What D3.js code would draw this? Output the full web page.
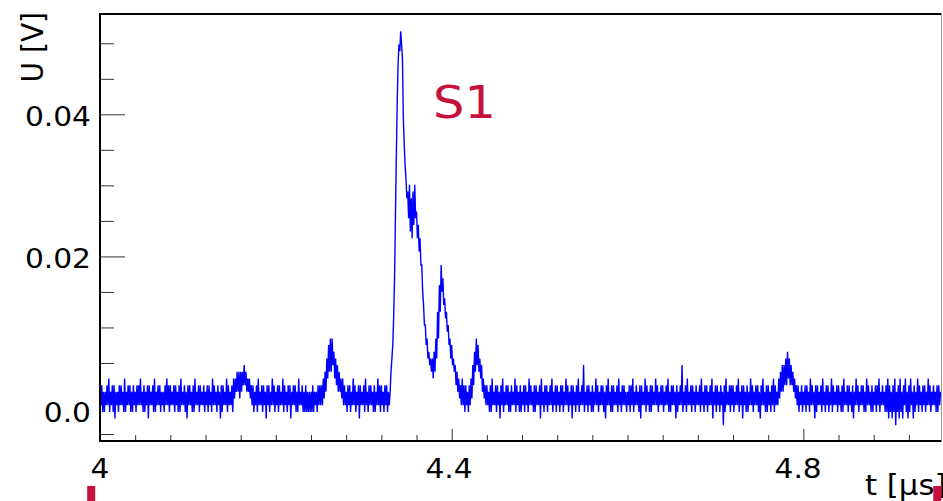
<!DOCTYPE html>
<html>
<head>
<meta charset="utf-8">
<script src="https://cdn.jsdelivr.net/npm/d3@7"></script>
<style>
  html, body { margin: 0; padding: 0; background: #fff; }
  svg { display: block; }
  text { font-family: "DejaVu Sans", sans-serif; }
</style>
</head>
<body>
<svg id="chart" width="943" height="501"></svg>
<script>
// Digitiser trace: ADC counts, one sample per ns, starting at t = 4.000 µs
const lsbVolts = 0.00094;
const startTime = 4.0;
const sampleStep = 0.001;
const adcCounts = [
  2,-1, 2,-2, 1,-2, 1,-1, 2,-1, 3,-2, 1,-1, 2,-2, 2,-3, 1,-1, 1,-2, 2,-1, 2,-1, 1,-2, 3,-2, 1,-1, 2,-1, 2,-2, 1,-2, 2,-1,
  1,-2, 2,-1, 2,-1, 3,-1, 1,-2, 2,-2, 1,-1, 2,-3, 2,-1, 1,-1, 2,-2, 3,-2, 1,-1, 2,-1, 2,-2, 1,-1, 1,-2, 2,-1, 3,-1, 2,-2,
  2,-1, 1,-1, 2,-2, 2,-1, 1,-2, 2,-2, 3,-1, 1,-1, 2,-2, 1,-3, 2,-1, 2,-1, 1,-2, 2,-2, 3,-1, 1,-1, 2,-2, 2,-1, 1,-1, 2,-2,
  1,-1, 2,-2, 2,-1, 1,-2, 3,-1, 2,-1, 1,-2, 2,-1, 1,-3, 2,-2, 2,-1, 1,-1, 3,-2, 2,-1, 1,-1, 2,-2, 3,0, 3,1, 4,1, 4,0,
  4,1, 4,2, 5,2, 4,1, 3,1, 3,0, 2,-1, 2,-2, 1,-1, 2,-2, 3,-1, 1,-1, 2,-2, 2,-1, 1,-3, 2,-1, 2,-2, 1,-1, 3,-1, 2,-2,
  1,-1, 2,-2, 2,-1, 1,-1, 3,-2, 2,-1, 1,-2, 2,-1, 2,-3, 1,-1, 2,-1, 2,-2, 1,-2, 3,-1, 1,-1, 2,-2, 1,-2, 2,-2, 1,-2, 1,-2,
  1,-2, 2,-2, 1,-1, 1,-2, 2,-1, 2,-1, 2,-1, 3,0, 4,1, 6,3, 8,4, 9,4, 9,5, 7,3, 6,2, 5,1, 4,1, 3,0, 3,-1, 2,-1,
  1,-2, 2,-1, 2,-2, 1,-1, 3,-1, 2,-2, 1,-1, 2,-3, 2,-1, 1,-1, 2,-2, 3,-1, 1,-2, 2,-1, 2,-1, 1,-2, 2,-2, 1,-1, 3,-1, 2,-2,
  2,-1, 1,-2, 2,-1, 2,-2, 1,-1,
  1,4,6,8,12,18,27,36,44,50, 53,52,55,53,51,42,38,35,33,30,
  31,27, 32,25, 30,24, 31,26, 32,27,
  28,24, 26,22, 24,20, 20,16, 14,11, 11,8, 9,6, 7,5, 6,4, 6,3, 7,4, 9,6, 13,9, 17,13, 20,16, 18,14, 15,12, 13,10, 11,8, 9,6,
  8,5, 6,4, 5,2, 4,1, 3,0, 2,-1, 3,-1, 2,-2, 2,-1, 1,-2, 2,-1, 3,0, 5,2, 7,4, 9,5, 8,4, 6,3, 5,1, 3,0, 2,-1,
  2,-1, 1,-2, 2,-2, 3,-1, 1,-1, 2,-2, 2,-1, 1,-3, 2,-1, 3,-2, 1,-1, 2,-1, 2,-2, 1,-2, 2,-1, 1,-1, 3,-2, 2,-1, 1,-2, 2,-2,
  1,-1, 2,-2, 2,-1, 1,-2, 3,-1, 2,-1, 1,-2, 2,-2, 2,-1, 1,-1, 2,-3, 3,-1, 1,-2, 2,-1, 2,-2, 1,-1, 2,-1, 3,-2, 1,-1, 2,-2,
  2,-1, 1,-2, 2,-1, 2,-2, 1,-1, 3,-1, 2,-2, 1,-1, 2,-3, 2,-1, 1,-2, 2,-1, 3,-2, 1,-1, 2,-1, 5,-2, 1,-1, 2,-2, 2,-1, 1,-2,
  2,-2, 1,-1, 3,-1, 2,-2, 1,-1, 2,-1, 2,-2, 1,-3, 2,-1, 3,-1, 1,-2, 2,-2, 2,-1, 1,-1, 2,-2, 3,-1, 1,-2, 2,-1, 2,-1, 1,-2,
  1,-1, 2,-2, 2,-1, 3,-2, 1,-1, 2,-1, 1,-2, 2,-3, 2,-1, 1,-1, 3,-2, 2,-1, 1,-2, 2,-2, 2,-1, 1,-1, 3,-1, 2,-2, 1,-1, 2,-1,
  2,-2, 1,-1, 2,-1, 3,-2, 1,-2, 2,-1, 2,-1, 1,-3, 2,-2, 1,-1, 2,-1, 5,-2, 1,-1, 2,-2, 3,-1, 1,-1, 2,-2, 2,-1, 1,-2, 2,-1,
  1,-1, 2,-2, 3,-1, 1,-2, 2,-1, 2,-2, 1,-1, 2,-1, 3,-3, 1,-1, 2,-2, 2,-1, 1,-2, 2,-1, 1,-4, 2,-2, 3,-1, 1,-1, 2,-2, 2,-1,
  2,-2, 1,-1, 2,-1, 3,-2, 1,-1, 2,-3, 2,-1, 1,-2, 2,-2, 1,-1, 3,-1, 2,-2, 1,-1, 2,-1, 2,-2, 1,-3, 2,-1, 3,-1, 1,-2, 2,-2,
  2,-1, 1,-2, 2,-1, 3,-2, 2,-1, 1,-1, 3,0, 4,1, 5,1, 5,2, 6,2, 7,3, 6,2, 5,2, 4,1, 3,0, 2,-1, 2,-2, 1,-1, 2,-2,
  1,-1, 2,-2, 2,-1, 1,-2, 3,-1, 2,-1, 1,-3, 2,-2, 2,-1, 1,-1, 2,-2, 3,-1, 1,-2, 2,-1, 2,-2, 1,-1, 3,-2, 2,-1, 1,-1, 2,-2,
  2,-1, 1,-2, 2,-2, 3,-1, 1,-1, 2,-2, 2,-1, 1,-2, 2,-3, 1,-1, 3,-1, 2,-2, 1,-1, 2,-1, 2,-2, 1,-2, 3,-1, 2,-1, 1,-2, 2,-2,
  1,-1, 2,-2, 2,-1, 3,-2, 1,-1, 2,-1, 1,-2, 2,-2, 3,-3, 2,-2, 1,-3, 2,-2, 3,-4, 1,-2, 2,-3, 3,-2, 1,-3, 2,-1, 3,-2, 1,-3,
  2,-2, 3,-1, 1,-3, 2,-2, 1,-1, 3,-2, 2,-1, 1,-2, 2,-1, 2,-2, 1,-1, 3,-1, 2,-2, 1,-1, 2,-1, 1,-2, 2,-2, 2,-1, 1
];

const xTickValues = [4.0, 4.4, 4.8];
const xTickLabels = ["4", "4.4", "4.8"];
const yTickValues = [0, 0.02, 0.04];
const yTickLabels = ["0.0", "0.02", "0.04"];
const windowEdges = [3.99, 4.9523];   // integration window markers (µs)
const peakName = "S1";
const xTitle = "t [µs]";
const yTitle = "U [V]";

const W = 943, H = 501;
const plot = { left: 100, right: 941.5, top: 14, bottom: 441 };
const RED = "#c8103c";
const STRETCH = 1.1;

const svg = d3.select("#chart");

const x = d3.scaleLinear().domain([4.0, 4.9571]).range([plot.left, plot.right]);
const y = d3.scaleLinear().domain([-0.00598, 0.05412]).range([plot.bottom, plot.top]);

// Minor tick positions
const xMinor = d3.range(0, 24).map(i => 4 + i * 0.04)
  .filter(v => !xTickValues.some(m => Math.abs(m - v) < 1e-9));
const yMinor = d3.range(-1, 11).map(i => i * 0.005)
  .filter(v => !yTickValues.some(m => Math.abs(m - v) < 1e-9));

function styleAxis(g) {
  g.select(".domain").remove();
  g.selectAll(".tick line").attr("stroke", "#333").attr("stroke-width", 1);
  g.selectAll(".tick text").remove();
}

svg.append("g").attr("transform", `translate(0,${plot.bottom})`)
  .call(d3.axisBottom(x).tickValues(xMinor).tickSize(-6)).call(styleAxis);
svg.append("g").attr("transform", `translate(0,${plot.bottom})`)
  .call(d3.axisBottom(x).tickValues(xTickValues).tickSize(-12)).call(styleAxis);
svg.append("g").attr("transform", `translate(${plot.left},0)`)
  .call(d3.axisLeft(y).tickValues(yMinor).tickSize(-14)).call(styleAxis);
svg.append("g").attr("transform", `translate(${plot.left},0)`)
  .call(d3.axisLeft(y).tickValues(yTickValues).tickSize(-25)).call(styleAxis);

// Trace
svg.append("clipPath").attr("id", "plotClip")
  .append("rect")
  .attr("x", plot.left).attr("y", plot.top)
  .attr("width", plot.right - plot.left).attr("height", plot.bottom - plot.top);

const samples = adcCounts.map((c, i) => ({ t: startTime + i * sampleStep, v: c * lsbVolts }));
const line = d3.line().x(d => x(d.t)).y(d => y(d.v));

svg.append("path")
  .datum(samples)
  .attr("clip-path", "url(#plotClip)")
  .attr("fill", "none")
  .attr("stroke", "#0000ff")
  .attr("stroke-width", 1.4)
  .attr("stroke-linejoin", "miter")
  .attr("d", line);

// Frame
const frame = svg.append("g");
frame.append("line").attr("x1", plot.left - 1).attr("x2", plot.right).attr("y1", plot.top).attr("y2", plot.top)
  .attr("stroke", "#000").attr("stroke-width", 2);
frame.append("line").attr("x1", plot.left).attr("x2", plot.left).attr("y1", plot.top - 1).attr("y2", plot.bottom + 1)
  .attr("stroke", "#000").attr("stroke-width", 2);
frame.append("line").attr("x1", plot.left - 1).attr("x2", plot.right).attr("y1", plot.bottom).attr("y2", plot.bottom)
  .attr("stroke", "#000").attr("stroke-width", 2);
frame.append("line").attr("x1", plot.right).attr("x2", plot.right).attr("y1", plot.top).attr("y2", plot.bottom)
  .attr("stroke", "#9a9a9a").attr("stroke-width", 1);

function label(px, py, str, size, anchor, fill) {
  return svg.append("text")
    .attr("transform", `translate(${px},${py}) scale(${STRETCH},1)`)
    .attr("text-anchor", anchor)
    .attr("font-size", size)
    .attr("fill", fill || "#000")
    .text(str);
}

// Tick labels
yTickValues.forEach((v, i) => {
  const extra = v === 0 ? 11.5 : 0;
  label(91, y(v) + 12 + extra, yTickLabels[i], 27, "end");
});
xTickValues.forEach((v, i) => {
  const px = x(v) - (x(v) - plot.left) * 0.0075;
  label(px, 477.5, xTickLabels[i], 27, "middle");
});

// Axis titles
svg.append("text")
  .attr("transform", `translate(43,12) rotate(-90) scale(1,${STRETCH})`)
  .attr("text-anchor", "end")
  .attr("font-size", 28)
  .text(yTitle);
label(865, 494.7, xTitle, 28, "start");

// Peak name
label(433, 118.3, peakName, 45, "start", RED);

// Window markers below the axis
svg.selectAll("rect.edge")
  .data(windowEdges)
  .enter().append("rect")
  .attr("class", "edge")
  .attr("x", d => x(d) - 4)
  .attr("y", 486)
  .attr("width", 8)
  .attr("height", H - 486)
  .attr("fill", RED);
</script>
</body>
</html>
